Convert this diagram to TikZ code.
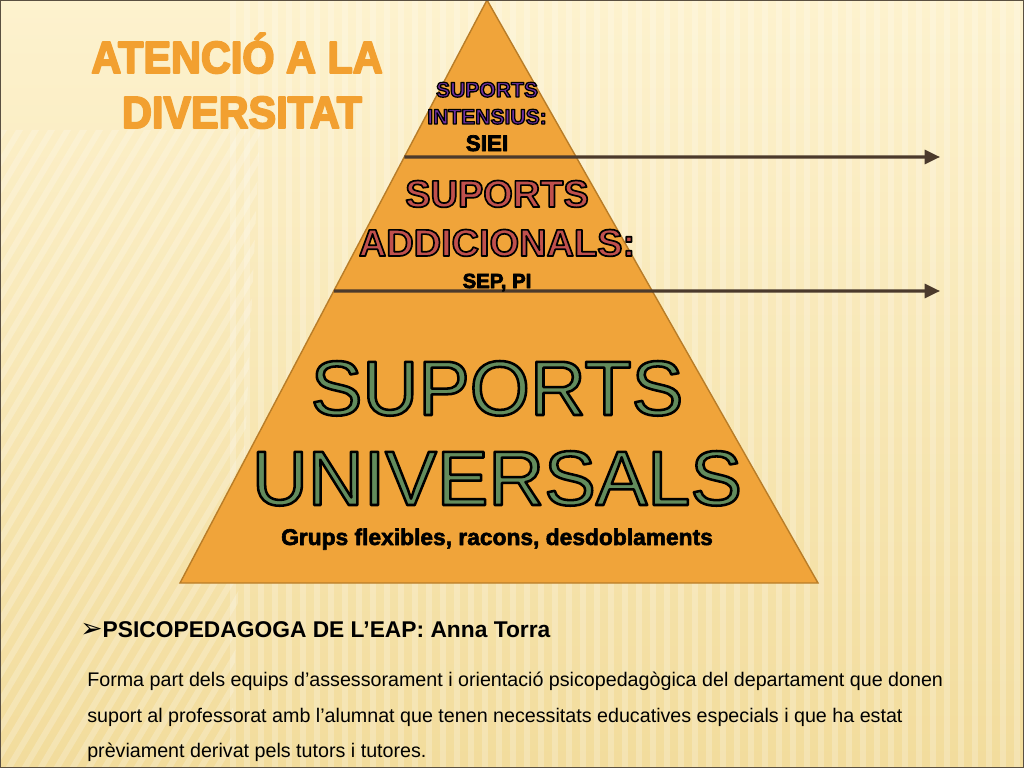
\documentclass[tikz,border=0pt]{standalone}
\usepackage{fontspec}
\setmainfont{Liberation Sans}
\newfontfamily\bulletfont{DejaVu Sans}
\usetikzlibrary{arrows.meta, calc}
\definecolor{bgtop}{RGB}{253,242,206}
\definecolor{bgbottom}{RGB}{242,220,156}
\definecolor{pyrfill}{RGB}{240,164,58}
\definecolor{pyredge}{RGB}{185,125,40}
\definecolor{arrowbrown}{RGB}{75,58,44}
\definecolor{tierpurple}{RGB}{112,48,160}
\definecolor{tierred}{RGB}{192,80,77}
\definecolor{tiergreen}{RGB}{99,140,92}
\definecolor{titleorange}{RGB}{242,160,48}
\definecolor{framegray}{RGB}{90,80,65}
% stroked glyphs: #1 line width (bp), #2 stroke colour as rgb numbers
\newcommand{\strokedtext}[3]{%
    \special{pdf:literal direct #1 w 1 j #2 RG 2 Tr}#3\special{pdf:literal direct 0 Tr}}
\tikzset {
    layer arrow/.style = {
        line width = 2.2pt, draw = arrowbrown,
        -{Triangle[length = 11pt, width = 10pt]}
    },
    tier text/.style = {anchor = base, inner sep = 0pt, font = \bfseries},
    title text/.style = {anchor = base, inner sep = 0pt, xscale = 0.92,
        text = titleorange, font = \fontsize{32}{36}\selectfont\bfseries},
    body text/.style = {anchor = base west, inner sep = 0pt},
    stripe/.style = {white, opacity = 0.22},
}
\begin{document}
\begin{tikzpicture}[x = 0.025cm, y = -0.025cm]
    \useasboundingbox (0, 0) rectangle (1024, 768);
    % background
    \shade [top color = bgtop, bottom color = bgbottom] (0, 0) rectangle (1024, 768);
    \begin{scope}
        \clip (230, 0) rectangle (1024, 768);
        \foreach \i in {230, 244, ..., 1024}
            \fill [stripe] (\i, 0) rectangle ++(6, 768);
    \end{scope}
    \begin{scope}
        \clip (0, 130) -- (260, 130) -- (230, 768) -- (0, 768) -- cycle;
        \foreach \i in {0, 16, ..., 700}
            \fill [stripe] (\i, 130) -- ++(7, 0) -- ++(-380, 640) -- ++(-7, 0) -- cycle;
    \end{scope}
    % pyramid
    \coordinate (apex) at (487, 0);
    \coordinate (bl) at (180, 583);
    \coordinate (br) at (818, 583);
    \filldraw [fill = pyrfill, draw = pyredge, line width = 1pt] (apex) -- (br) -- (bl) -- cycle;
    \coordinate (cut1) at ($(apex)!0.2693!(bl)$);
    \coordinate (cut2) at ($(apex)!0.4991!(bl)$);
    \coordinate (tip1) at (940, 157);
    \coordinate (tip2) at (940, 291);
    \draw [layer arrow] (cut1) -- (tip1);
    \draw [layer arrow] (cut2) -- (tip2);
    % tiers
    \node (int1) [tier text, font = \fontsize{15}{18}\selectfont\bfseries, text = tierpurple]
        at (487, 97) {\strokedtext{0.9}{0 0 0}{SUPORTS}};
    \node (int2) [tier text, font = \fontsize{15}{18}\selectfont\bfseries, text = tierpurple]
        at (487, 124) {\strokedtext{0.9}{0 0 0}{INTENSIUS:}};
    \node (siei) [tier text, font = \fontsize{16}{18}\selectfont\bfseries]
        at (487, 151) {\strokedtext{0.5}{0 0 0}{SIEI}};
    \node (add1) [tier text, font = \fontsize{27}{30}\selectfont\bfseries, text = tierred]
        at (497, 207) {\strokedtext{1.2}{0 0 0}{SUPORTS}};
    \node (add2) [tier text, font = \fontsize{27}{30}\selectfont\bfseries, text = tierred]
        at (497, 256) {\strokedtext{1.2}{0 0 0}{ADDICIONALS:}};
    \node (sep) [tier text, font = \fontsize{14.5}{16}\selectfont\bfseries]
        at (497, 288) {\strokedtext{0.5}{0 0 0}{SEP, PI}};
    \node (uni1) [tier text, font = \fontsize{55}{60}\selectfont, text = tiergreen]
        at (497, 415) {\strokedtext{1.8}{0 0 0}{SUPORTS}};
    \node (uni2) [tier text, font = \fontsize{55}{60}\selectfont, text = tiergreen]
        at (497, 505) {\strokedtext{1.8}{0 0 0}{UNIVERSALS}};
    \node (grups) [tier text, font = \fontsize{16.2}{18}\selectfont\bfseries]
        at (497, 545) {\strokedtext{0.4}{0 0 0}{Grups flexibles, racons, desdoblaments}};
    % title
    \node (title1) [title text] at (237, 73)
        {\strokedtext{1.4}{0.949 0.627 0.188}{ATENCIÓ A LA}};
    \node (title2) [title text] at (242, 128)
        {\strokedtext{1.4}{0.949 0.627 0.188}{DIVERSITAT}};
    % text below
    \node (eap) [body text, font = \fontsize{16.2}{18}\selectfont\bfseries] at (80, 637)
        {{\bulletfont\fontsize{19}{20}\selectfont ➢}PSICOPEDAGOGA DE L’EAP: Anna Torra};
    \node (par1) [body text, font = \fontsize{14}{16}\selectfont] at (87, 686)
        {Forma part dels equips d’assessorament i orientació psicopedagògica del departament que donen};
    \node (par2) [body text, font = \fontsize{14}{16}\selectfont] at (87, 722)
        {suport al professorat amb l’alumnat que tenen necessitats educatives especials i que ha estat};
    \node (par3) [body text, font = \fontsize{14}{16}\selectfont] at (87, 757)
        {prèviament derivat pels tutors i tutores.};
    % frame
    \draw [framegray, line width = 1.6pt] (0, 0) rectangle (1024, 768);
\end{tikzpicture}
\end{document}
